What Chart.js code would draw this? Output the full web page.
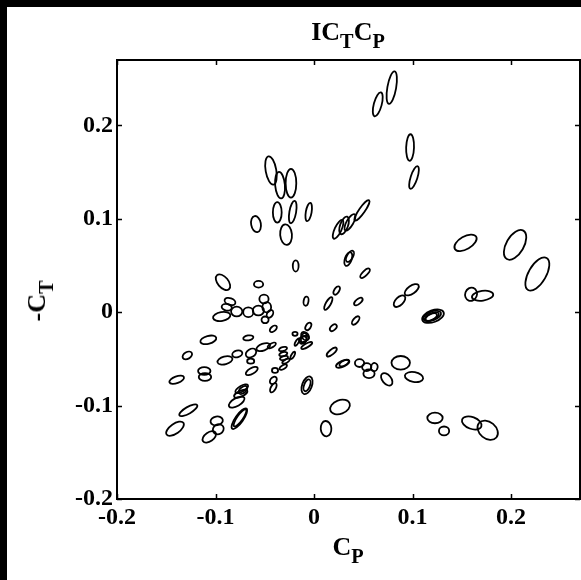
<!DOCTYPE html>
<html>
<head>
<meta charset="utf-8">
<script src="https://cdn.jsdelivr.net/npm/chart.js@4.4.0/dist/chart.umd.min.js"></script>
<style>
  html, body { margin: 0; padding: 0; background: #000; width: 581px; height: 580px; overflow: hidden; }
  #fig { position: absolute; left: 7px; top: 7px; width: 574px; height: 573px; background: #fff; }
  #plot { position: absolute; left: 0; top: 0; }
  .lbl { position: absolute; font-family: "Liberation Serif", "Times New Roman", serif; font-weight: bold;
         color: #000; white-space: nowrap; line-height: 1; }
  .lbl sub { font-size: 0.78em; vertical-align: -0.4em; line-height: 0; }
  #title { left: 341px; top: 12px; font-size: 26px; transform: translateX(-50%); }
  #xlabel { left: 341px; top: 527px; font-size: 26px; transform: translateX(-50%); }
  #ylabel { left: 30px; top: 294px; font-size: 26px; transform: translate(-50%, -50%) rotate(-90deg); }
</style>
</head>
<body>
<div id="fig">
  <canvas id="plot" width="574" height="573"></canvas>
  <div class="lbl" id="title">IC<sub>T</sub>C<sub>P</sub></div>
  <div class="lbl" id="xlabel">C<sub>P</sub></div>
  <div class="lbl" id="ylabel">-C<sub>T</sub></div>
</div>
<script>
// ellipse centres: C_P (x) and -C_T (y)
const cp = [
  -0.0437, -0.0345, -0.0234, -0.0373, -0.0216, -0.0054, -0.0589, -0.0284, -0.0186, -0.0924,
  -0.0563, 0.0244, 0.0305, 0.0365, 0.0487, 0.0348, 0.0365, 0.0518, 0.0789, 0.0647,
  0.0975, 0.1015, 0.1538, 0.2041, 0.2267, 0.1594, 0.1711, 0.0868, 0.0992, 0.1208,
  0.1200, 0.1195, 0.1190, 0.0450, 0.0423, -0.0081, 0.0230, 0.0145, 0.0196, 0.0180,
  -0.0058, -0.0102, -0.0102, -0.0091, -0.0112, -0.0074, -0.0193, -0.0173, 0.0291, 0.0305,
  0.0462, 0.0535, 0.0558, 0.0612, 0.0738, 0.0880, 0.1015, 0.0264, 0.0122, 0.1228,
  0.1320, 0.1601, 0.1763, -0.0071, -0.0071, -0.0508, -0.0853, -0.0886, -0.0937, -0.0785,
  -0.0667, -0.0565, -0.0480, -0.0447, -0.0497, -0.0413, -0.0667, -0.1073, -0.1286, -0.0904,
  -0.0779, -0.0640, -0.0643, -0.0515, -0.0429, -0.0632, -0.0315, -0.0312, -0.0305, -0.0284,
  -0.0216, -0.0312, -0.0396, -0.0413, -0.0413, -0.1394, -0.1114, -0.1107, -0.1276, -0.1411,
  -0.0988, -0.0972, -0.1063, -0.0785, -0.0734, -0.0744, -0.0721, -0.0758, -0.0751
];
const ct = [
  0.1517, 0.1360, 0.1381, 0.1068, 0.1072, 0.1072, 0.0943, 0.0830, 0.0495, 0.0321,
  0.0299, 0.0887, 0.0929, 0.0962, 0.1090, 0.0569, 0.0598, 0.0417, 0.2404, 0.2225,
  0.1763, 0.1442, 0.0743, 0.0721, 0.0409, 0.0192, 0.0176, 0.0118, 0.0240, -0.0043,
  -0.0040, -0.0048, -0.0052, 0.0114, -0.0089, 0.0118, 0.0232, 0.0093, -0.0166, -0.0427,
  -0.0153, -0.0285, -0.0278, -0.0256, -0.0299, -0.0356, -0.0232, -0.0321, -0.0552, -0.0545,
  -0.0545, -0.0588, -0.0659, -0.0588, -0.0719, -0.0542, -0.0694, -0.1015, -0.1247, -0.1132,
  -0.1271, -0.1186, -0.1264, -0.0783, -0.0783, 0.0142, 0.0114, 0.0053, -0.0046, 0.0007,
  0.0000, 0.0018, 0.0053, -0.0018, -0.0082, -0.0178, -0.0275, -0.0296, -0.0463, -0.0516,
  -0.0446, -0.0438, -0.0524, -0.0374, -0.0356, -0.0630, -0.0395, -0.0449, -0.0491, -0.0524,
  -0.0463, -0.0588, -0.0623, -0.0730, -0.0809, -0.0723, -0.0630, -0.0694, -0.1050, -0.1247,
  -0.1164, -0.1253, -0.1335, -0.0962, -0.0819, -0.0873, -0.0833, -0.1140, -0.1132
];
// semi-axes (data units) and tilt of the major axis (degrees)
const semiMajor = [
  0.0146, 0.0135, 0.0146, 0.0104, 0.0115, 0.0094, 0.0083, 0.0104, 0.0057, 0.0094,
  0.0047, 0.0104, 0.0094, 0.0094, 0.0125, 0.0073, 0.0063, 0.0063, 0.0167, 0.0125,
  0.0135, 0.0120, 0.0125, 0.0167, 0.0188, 0.0068, 0.0109, 0.0073, 0.0083, 0.0115,
  0.0094, 0.0078, 0.0063, 0.0052, 0.0052, 0.0047, 0.0047, 0.0073, 0.0042, 0.0063,
  0.0042, 0.0052, 0.0052, 0.0047, 0.0042, 0.0063, 0.0026, 0.0042, 0.0073, 0.0052,
  0.0047, 0.0047, 0.0057, 0.0042, 0.0073, 0.0094, 0.0094, 0.0104, 0.0078, 0.0078,
  0.0052, 0.0104, 0.0115, 0.0094, 0.0063, 0.0047, 0.0057, 0.0052, 0.0089, 0.0057,
  0.0052, 0.0057, 0.0052, 0.0042, 0.0036, 0.0042, 0.0052, 0.0083, 0.0052, 0.0078,
  0.0052, 0.0057, 0.0036, 0.0073, 0.0047, 0.0068, 0.0042, 0.0042, 0.0042, 0.0042,
  0.0042, 0.0042, 0.0031, 0.0042, 0.0052, 0.0078, 0.0063, 0.0063, 0.0104, 0.0104,
  0.0063, 0.0057, 0.0078, 0.0089, 0.0073, 0.0073, 0.0052, 0.0125, 0.0104
];
const semiMinor = [
  0.0057, 0.0052, 0.0057, 0.0047, 0.0036, 0.0031, 0.0052, 0.0063, 0.0031, 0.0057,
  0.0036, 0.0036, 0.0042, 0.0036, 0.0031, 0.0036, 0.0031, 0.0026, 0.0047, 0.0042,
  0.0042, 0.0036, 0.0068, 0.0094, 0.0094, 0.0063, 0.0052, 0.0042, 0.0042, 0.0063,
  0.0047, 0.0036, 0.0031, 0.0026, 0.0026, 0.0026, 0.0026, 0.0026, 0.0026, 0.0026,
  0.0026, 0.0031, 0.0031, 0.0036, 0.0031, 0.0021, 0.0021, 0.0016, 0.0031, 0.0026,
  0.0042, 0.0042, 0.0047, 0.0036, 0.0047, 0.0073, 0.0052, 0.0073, 0.0057, 0.0057,
  0.0047, 0.0063, 0.0089, 0.0052, 0.0031, 0.0047, 0.0036, 0.0036, 0.0047, 0.0052,
  0.0052, 0.0052, 0.0047, 0.0031, 0.0036, 0.0026, 0.0026, 0.0042, 0.0036, 0.0042,
  0.0036, 0.0042, 0.0026, 0.0036, 0.0021, 0.0031, 0.0021, 0.0021, 0.0021, 0.0019,
  0.0016, 0.0021, 0.0026, 0.0031, 0.0026, 0.0036, 0.0042, 0.0042, 0.0036, 0.0052,
  0.0047, 0.0052, 0.0047, 0.0042, 0.0031, 0.0031, 0.0031, 0.0042, 0.0031
];
const tilt = [
  100, 95, 90, 90, 80, 80, 100, 95, 90, 130,
  0, 65, 70, 60, 55, 70, 60, 45, 80, 75,
  88, 72, 30, 60, 60, 70, 8, 45, 35, 20,
  20, 25, 25, 40, 50, 80, 60, 60, 45, 40,
  60, 20, 80, 130, 50, 30, 0, 60, 25, 30,
  0, 0, 0, 80, 130, 0, 170, 20, 95, 0,
  0, 160, 140, 70, 70, 0, 160, 170, 10, 0,
  0, 0, 90, 60, 0, 40, 10, 15, 30, 15,
  15, 30, 0, 20, 30, 30, 15, 15, 15, 30,
  60, 30, 0, 50, 60, 20, 0, 0, 30, 35,
  10, 30, 35, 30, 30, 25, 40, 55, 55
];
const xTicks = [-0.2, -0.1, 0, 0.1, 0.2];
const yTicks = [-0.2, -0.1, 0, 0.1, 0.2];

const tickFont = { family: '"Liberation Serif", "Times New Roman", serif', weight: 'bold', size: 24 };
const fmt = (v) => String(Number(v.toFixed(1)));

// outlines every ellipse around its dataset point, sized through the scales
const ellipsePlugin = {
  id: 'ellipses',
  afterDatasetsDraw(chart) {
    const { ctx, chartArea, scales: { x, y } } = chart;
    const pts = chart.getDatasetMeta(0).data;
    ctx.save();
    ctx.beginPath();
    ctx.rect(chartArea.left, chartArea.top, chartArea.width, chartArea.height);
    ctx.clip();
    ctx.strokeStyle = '#000';
    ctx.lineWidth = 1.8;
    pts.forEach((pt, i) => {
      const rx = Math.abs(x.getPixelForValue(cp[i] + semiMajor[i]) - pt.x);
      const ry = Math.abs(y.getPixelForValue(ct[i] + semiMinor[i]) - pt.y);
      ctx.beginPath();
      ctx.ellipse(pt.x, pt.y, rx, ry, -tilt[i] * Math.PI / 180, 0, 2 * Math.PI);
      ctx.stroke();
    });
    ctx.restore();
  }
};

// box around the axes plus inward tick marks on all four sides
const framePlugin = {
  id: 'frame',
  afterDraw(chart) {
    const { ctx, chartArea: a, scales: { x, y } } = chart;
    ctx.save();
    ctx.strokeStyle = '#000';
    ctx.lineWidth = 2;
    ctx.strokeRect(a.left, a.top, a.right - a.left, a.bottom - a.top);
    ctx.lineWidth = 1.5;
    ctx.beginPath();
    xTicks.forEach((v) => {
      const px = Math.round(x.getPixelForValue(v)) + 0.5;
      ctx.moveTo(px, a.bottom); ctx.lineTo(px, a.bottom - 5);
      ctx.moveTo(px, a.top); ctx.lineTo(px, a.top + 5);
    });
    yTicks.forEach((v) => {
      const py = Math.round(y.getPixelForValue(v)) + 0.5;
      ctx.moveTo(a.left, py); ctx.lineTo(a.left + 5, py);
      ctx.moveTo(a.right, py); ctx.lineTo(a.right - 5, py);
    });
    ctx.stroke();
    ctx.restore();
  }
};

new Chart(document.getElementById('plot'), {
  type: 'scatter',
  data: {
    datasets: [{
      data: cp.map((v, i) => ({ x: v, y: ct[i] })),
      pointRadius: 0,
      pointHoverRadius: 0
    }]
  },
  options: {
    responsive: false,
    animation: false,
    events: [],
    layout: { padding: { top: 53, right: 1, left: 0, bottom: 0 } },
    plugins: { legend: { display: false }, tooltip: { enabled: false } },
    scales: {
      x: {
        type: 'linear', min: -0.2, max: 0.27,
        afterFit: (s) => { s.height = 81; },
        grid: { display: false, drawTicks: false },
        border: { display: false },
        afterBuildTicks: (s) => { s.ticks = xTicks.map((v) => ({ value: v })); },
        ticks: { padding: 4, color: '#000', font: tickFont, maxRotation: 0, autoSkip: false, callback: fmt }
      },
      y: {
        type: 'linear', min: -0.2, max: 0.27,
        afterFit: (s) => { s.width = 110; },
        grid: { display: false, drawTicks: false },
        border: { display: false },
        afterBuildTicks: (s) => { s.ticks = yTicks.map((v) => ({ value: v })); },
        ticks: { padding: 4, color: '#000', font: tickFont, autoSkip: false, callback: fmt }
      }
    }
  },
  plugins: [ellipsePlugin, framePlugin]
});
</script>
</body>
</html>
